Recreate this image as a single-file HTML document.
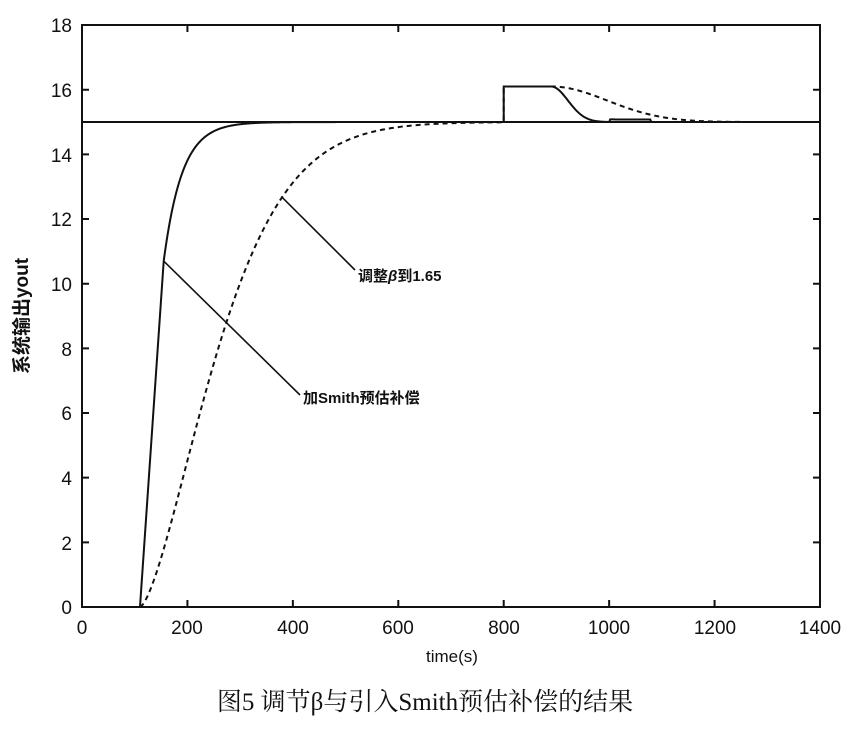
<!DOCTYPE html>
<html><head><meta charset="utf-8"><style>
body{margin:0;background:#fff;width:850px;height:727px;overflow:hidden}
text{font-family:"Liberation Sans","Noto Sans CJK SC",sans-serif;fill:#111}
</style></head><body>
<svg width="850" height="727" viewBox="0 0 850 727" xmlns="http://www.w3.org/2000/svg">
<g id="plot" fill="none" stroke="#111" stroke-width="2"></g>
<g font-size="19" text-anchor="end">
<text x="72" y="614">0</text><text x="72" y="550">2</text><text x="72" y="485">4</text><text x="72" y="420">6</text><text x="72" y="356">8</text><text x="72" y="291">10</text><text x="72" y="226">12</text><text x="72" y="162">14</text><text x="72" y="97">16</text><text x="72" y="32">18</text>
</g>
<g font-size="19" text-anchor="middle">
<text x="82" y="634">0</text><text x="187" y="634">200</text><text x="293" y="634">400</text><text x="398" y="634">600</text><text x="504" y="634">800</text><text x="609" y="634">1000</text><text x="715" y="634">1200</text><text x="820" y="634">1400</text>
<text x="452" y="662" font-size="17">time(s)</text>
</g>
<text transform="translate(28,316) rotate(-90)" font-size="19" font-weight="bold" text-anchor="middle">系统输出yout</text>
<text x="358" y="281" font-size="15" font-weight="bold">调整<tspan font-style="italic">β</tspan>到1.65</text>
<text x="303" y="403" font-size="15" font-weight="bold">加Smith预估补偿</text>
<text x="425" y="710" font-size="25" text-anchor="middle" style="font-family:'Liberation Serif','Noto Serif CJK SC',serif">图5 调节β与引入Smith预估补偿的结果</text>
</svg>
<script>
const X=t=>82+t*738/1400, Y=v=>607-v*32.33;
const g=document.getElementById('plot');
function add(d,extra){const p=document.createElementNS('http://www.w3.org/2000/svg','path');p.setAttribute('d',d);if(extra)for(const k in extra)p.setAttribute(k,extra[k]);g.appendChild(p);}
add(`M82 25H820V607H82Z`);
let tk='';
for(let i=0;i<=7;i++){const x=X(i*200);tk+=`M${x} 607v-7M${x} 25v7`;}
for(let v=0;v<=18;v+=2){tk+=`M82 ${Y(v)}h7M820 ${Y(v)}h-7`;}
add(tk);
add(`M82 ${Y(15)}H820`);
let s=`M${X(110)} ${Y(0)}L${X(155)} ${Y(10.7)}`;
for(let t=156;t<=800;t+=2){s+=`L${X(t)} ${Y(15-4.3*Math.exp(-(t-155)/35))}`;}
s+=`L${X(800)} ${Y(16.1)}L${X(890)} ${Y(16.1)}`;
for(let t=892;t<=1400;t+=2){let v=15+1.1*Math.exp(-Math.pow((t-890)/45,2));if(t>1000&&t<1080)v+=0.08;s+=`L${X(t)} ${Y(v)}`;}
add(s);
let d=`M${X(110)} ${Y(0)}`;
for(let t=112;t<=800;t+=2){d+=`L${X(t)} ${Y(15*(1-Math.exp(-Math.pow((t-110)/178,1.5))))}`;}
d+=`L${X(800)} ${Y(16.1)}L${X(890)} ${Y(16.1)}`;
for(let t=892;t<=1400;t+=2){d+=`L${X(t)} ${Y(15+1.1*Math.exp(-Math.pow((t-890)/150,2)))}`;}
add(d,{'stroke-dasharray':'5 4'});
add(`M${X(378)} ${Y(12.7)}L355 270M${X(155)} ${Y(10.7)}L300 395`,{'stroke-width':'1.6'});
</script>
</body></html>
